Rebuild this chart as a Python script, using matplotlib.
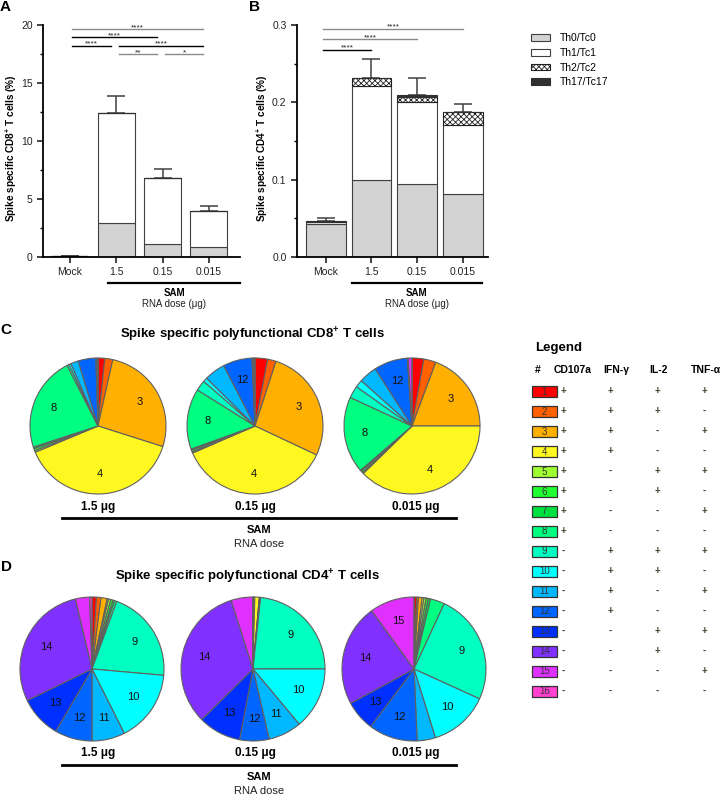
import numpy as np
import matplotlib
matplotlib.use("Agg")
import matplotlib.pyplot as plt
from matplotlib.patches import Rectangle

plt.rcParams["font.family"] = ["Liberation Sans", "DejaVu Sans"]
plt.rcParams["mathtext.fontset"] = "custom"
plt.rcParams["mathtext.rm"] = "Liberation Sans"
plt.rcParams["mathtext.bf"] = "Liberation Sans:bold"
plt.rcParams["hatch.linewidth"] = 0.6

# ===================== DATA =====================
doses = ["Mock", "1.5", "0.15", "0.015"]
subsets = ["Th0/Tc0", "Th1/Tc1", "Th2/Tc2", "Th17/Tc17"]

cd8_th0 = [0.03, 2.9, 1.1, 0.85]
cd8_th1 = [0.02, 9.5, 5.7, 3.15]
cd8_th2 = [0.0, 0.0, 0.0, 0.0]
cd8_th17 = [0.0, 0.0, 0.0, 0.0]
cd8_sem = [0.0, 1.5, 0.8, 0.4]

cd4_th0 = [0.043, 0.099, 0.095, 0.082]
cd4_th1 = [0.002, 0.122, 0.105, 0.089]
cd4_th2 = [0.0, 0.010, 0.007, 0.016]
cd4_th17 = [0.002, 0.001, 0.003, 0.0]
cd4_sem = [0.004, 0.024, 0.021, 0.011]

# comparisons: (group i, group j, stars, row, gray?)
sig_cd8 = [(0, 3, "****", 0, True), (0, 2, "****", 1, False), (0, 1, "****", 2, False),
           (1, 3, "****", 2, False), (1, 2, "**", 3, True), (2, 3, "*", 3, True)]
sig_cd4 = [(0, 3, "****", 0, True), (0, 2, "****", 1, True), (0, 1, "****", 2, False)]

pie_doses = ["1.5 μg", "0.15 μg", "0.015 μg"]
# polyfunctional subsets 1..16 (% of responding cells)
cd8_pie_15 = [1.6, 1.9, 26.4, 38.8, 0.4, 0.5, 0.4, 22.5, 0.5, 0.5, 1.8, 4.2, 0.3, 0.2, 0.0, 0.0]
cd8_pie_015 = [3.0, 2.0, 27.0, 36.5, 0.3, 0.4, 0.3, 14.4, 2.5, 1.0, 5.0, 6.9, 0.2, 0.3, 0.1, 0.1]
cd8_pie_0015 = [2.8, 2.9, 19.3, 37.7, 0.3, 0.4, 0.3, 18.2, 2.9, 1.8, 4.3, 8.0, 0.1, 0.1, 0.9, 0.0]
cd4_pie_15 = [1.0, 1.0, 1.4, 0.3, 0.5, 0.5, 0.4, 0.5, 20.8, 16.2, 7.4, 8.4, 9.4, 28.5, 3.2, 0.5]
cd4_pie_015 = [0.1, 0.1, 0.2, 1.0, 0.1, 0.1, 0.05, 0.05, 23.3, 13.9, 7.5, 6.6, 9.6, 32.5, 4.8, 0.1]
cd4_pie_0015 = [0.6, 0.4, 0.8, 0.4, 0.5, 0.5, 0.5, 3.2, 24.9, 13.4, 4.1, 11.0, 6.8, 22.9, 10.0, 0.0]

subset_colors = ["#FF0000", "#FF6000", "#FFB000", "#FFF820", "#A0FF30", "#20FF30", "#00E040", "#00FF80",
                 "#00FFC0", "#00FFFF", "#00B8FF", "#0066FF", "#0030FF", "#8030FF", "#E030FF", "#FF40D0"]

markers = ["CD107a", "IFN-γ", "IL-2", "TNF-α"]
cd107a = ["+"] * 8 + ["-"] * 8
ifng = (["+"] * 4 + ["-"] * 4) * 2
il2 = (["+"] * 2 + ["-"] * 2) * 4
tnfa = ["+", "-"] * 8

# ===================== LAYOUT HELPERS =====================
W, H = 726, 797
fig = plt.figure(figsize=(W / 100, H / 100), dpi=100)


def px_axes(x0, y0, x1, y1):
    return fig.add_axes([x0 / W, 1 - y1 / H, (x1 - x0) / W, (y1 - y0) / H])


ov = fig.add_axes([0, 0, 1, 1])
ov.set_xlim(0, W)
ov.set_ylim(H, 0)
ov.axis("off")


def style_axes(ax):
    for s in ["top", "right"]:
        ax.spines[s].set_visible(False)
    for s in ["left", "bottom"]:
        ax.spines[s].set_linewidth(1.3)
    ax.tick_params(direction="out", length=4, width=1.2, labelsize=7.5, colors="#222222")
    ax.tick_params(which="minor", direction="out", length=2.5, width=1.0)


def bar_panel(ax, th0, th1, th2, th17, sem, width):
    x = np.arange(len(doses))
    bottom = np.zeros(len(doses))
    handles = []
    specs = [dict(color="#d3d3d3", edgecolor="#404040"),
             dict(color="white", edgecolor="#404040"),
             dict(color="white", edgecolor="#202020", hatch="xxxxxx"),
             dict(color="#303030", edgecolor="#303030")]
    for vals, sp in zip([th0, th1, th2, th17], specs):
        b = ax.bar(x, vals, width, bottom=bottom, linewidth=0.8, zorder=2, **sp)
        handles.append(b)
        bottom = bottom + np.array(vals)
    ax.errorbar(x, bottom, yerr=[np.zeros(len(sem)), sem], fmt="none", ecolor="#404040",
                elinewidth=1.1, capsize=6.5, capthick=1.1, zorder=1)
    ax.set_xticks(x)
    ax.set_xticklabels(doses)
    style_axes(ax)
    return handles


def sig_lines(ax, comps, y_top, y_step, off0, off1):
    for i, j, stars, row, gray in comps:
        y = y_top - row * y_step
        c = "#8a8a8a" if gray else "black"
        ax.plot([i + off0, j + off1], [y, y], color=c, lw=1.0, clip_on=False, zorder=3)
        ax.text((i + j) / 2 + (off0 + off1) / 2, y, stars, fontsize=6, ha="center", va="baseline",
                color="#222222")


# ===================== A: CD8 bars =====================
axA = px_axes(43, 25, 240, 257)
hA = bar_panel(axA, cd8_th0, cd8_th1, cd8_th2, cd8_th17, cd8_sem, 0.8)
axA.set_xlim(-0.58, 3.67)
axA.set_ylim(0, 20)
axA.set_yticks([0, 5, 10, 15, 20])
axA.set_yticks(np.arange(2.5, 20, 5), minor=True)
axA.set_ylabel("Spike specific CD8$^{\\mathbf{+}}$ T cells (%)", fontsize=7.2, fontweight="bold")
axA.yaxis.set_label_coords(-0.12, 0.47)
sig_lines(axA, sig_cd8, 19.65, 0.72, 0.05, -0.12)

# ===================== B: CD4 bars =====================
axB = px_axes(297, 25, 488, 257)
hB = bar_panel(axB, cd4_th0, cd4_th1, cd4_th2, cd4_th17, cd4_sem, 0.87)
axB.set_xlim(-0.63, 3.55)
axB.set_ylim(0, 0.3)
axB.set_yticks([0.0, 0.1, 0.2, 0.3])
axB.set_yticklabels(["0.0", "0.1", "0.2", "0.3"])
axB.set_yticks(np.arange(0.05, 0.3, 0.1), minor=True)
axB.set_ylabel("Spike specific CD4$^{\\mathbf{+}}$ T cells (%)", fontsize=7.2, fontweight="bold")
axB.yaxis.set_label_coords(-0.14, 0.47)
sig_lines(axB, sig_cd4, 0.295, 0.0135, -0.06, 0.0)

fig.legend(hB, subsets, loc="upper left", bbox_to_anchor=(522 / W, 1 - 24 / H), frameon=False,
           fontsize=7.5, handlelength=1.8, handleheight=0.6, labelspacing=0.45, handletextpad=0.9)

for x0, x1 in [(108, 240), (352, 482)]:
    ov.plot([x0, x1], [283, 283], color="black", lw=1.6)
    ov.text((x0 + x1) / 2, 293, "SAM", fontsize=7, fontweight="bold", ha="center", va="center")
    ov.text((x0 + x1) / 2, 304, "RNA dose (μg)", fontsize=7, ha="center", va="center", color="#222222")

# ===================== C / D: pies =====================
def pie_panel(cx, cy, r, values):
    pad = 1.03
    ax = px_axes(cx - r * pad, cy - r * pad, cx + r * pad, cy + r * pad)
    total = float(sum(values))
    labels = [str(k + 1) if v / total >= 0.06 else "" for k, v in enumerate(values)]
    ax.pie(values, colors=subset_colors, startangle=90, counterclock=False, radius=1,
           labels=labels, labeldistance=0.7,
           textprops=dict(fontsize=8, ha="center", va="center", color="#111111"),
           wedgeprops=dict(edgecolor="#606060", linewidth=0.8))
    ax.set_xlim(-pad, pad)
    ax.set_ylim(-pad, pad)
    return ax


cd8_pies = [cd8_pie_15, cd8_pie_015, cd8_pie_0015]
cd4_pies = [cd4_pie_15, cd4_pie_015, cd4_pie_0015]
pie_x_C = [98, 255, 412]
pie_x_D = [92, 253, 414]
label_x = [98, 255, 416]

for k in range(3):
    pie_panel(pie_x_C[k], 426, 68, cd8_pies[k])
    pie_panel(pie_x_D[k], 669, 72, cd4_pies[k])
    ov.text(label_x[k], 507, pie_doses[k], fontsize=8.5, fontweight="bold", ha="center", va="center")
    ov.text(label_x[k], 753, pie_doses[k], fontsize=8.5, fontweight="bold", ha="center", va="center")

ov.text(252, 335, "Spike specific polyfunctional CD8$^{\\mathbf{+}}$ T cells", fontsize=9.5,
        fontweight="bold", ha="center", va="center")
ov.text(247, 577, "Spike specific polyfunctional CD4$^{\\mathbf{+}}$ T cells", fontsize=9.5,
        fontweight="bold", ha="center", va="center")

for yl in [518, 765]:
    ov.plot([62, 456], [yl, yl], color="black", lw=2.0)
    ov.text(259, yl + 12, "SAM", fontsize=8, fontweight="bold", ha="center", va="center")
    ov.text(259, yl + 26, "RNA dose", fontsize=8, ha="center", va="center", color="#222222")

# panel letters
for lab, (lx, ly) in zip("ABCD", [(5, 7), (254, 7), (6, 330), (6, 567)]):
    ov.text(lx, ly, lab, fontsize=11, fontweight="bold", ha="center", va="center")

# ===================== polyfunctional legend table =====================
ov.text(535, 348, "Legend", fontsize=9.5, fontweight="bold", ha="left", va="center")
ov.text(535, 370, "#", fontsize=7.5, fontweight="bold", ha="left", va="center")
col_x = [573, 616, 658, 706]
sign_x = [563, 610, 657, 704]
for cx, m in zip(col_x, markers):
    ov.text(cx, 370, m, fontsize=7.5, fontweight="bold", ha="center", va="center")

for k in range(16):
    y = 391 + 20 * k
    ov.add_patch(Rectangle((532, y - 5.5), 25, 11, facecolor=subset_colors[k], edgecolor="#333333", lw=0.9))
    ov.text(544.5, y + 0.5, str(k + 1), fontsize=7, ha="center", va="center", color="#333333")
    for sx, col in zip(sign_x, [cd107a, ifng, il2, tnfa]):
        ov.text(sx, y, col[k], fontsize=7, fontweight="bold", ha="center", va="center", color="#444433")

fig.savefig("out.png", dpi=100)
